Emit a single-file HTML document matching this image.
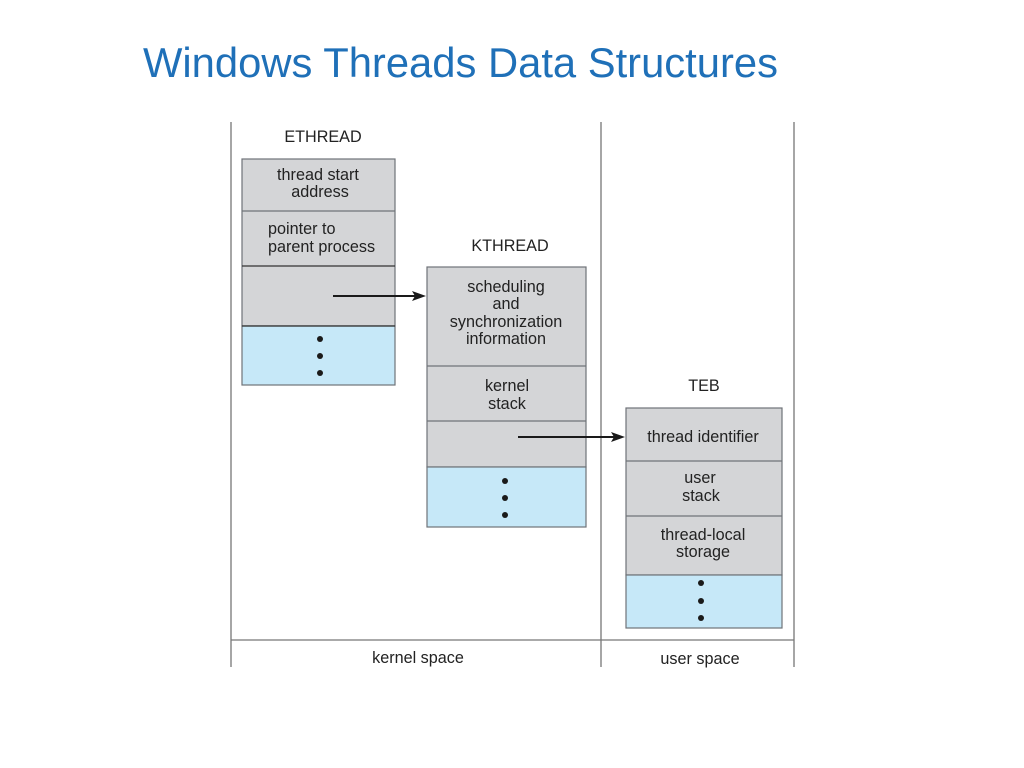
<!DOCTYPE html>
<html><head><meta charset="utf-8"><style>
html,body{margin:0;padding:0;background:#fff;}
svg{display:block;}
</style></head><body>
<svg width="1024" height="768" viewBox="0 0 1024 768" xmlns="http://www.w3.org/2000/svg" font-family="Liberation Sans, sans-serif">
<text x="143" y="77" font-size="42" fill="#1f70b8" textLength="635" lengthAdjust="spacingAndGlyphs">Windows Threads Data Structures</text>
<g stroke="#777" stroke-width="1.3">
<line x1="231" y1="122" x2="231" y2="667"/>
<line x1="601" y1="122" x2="601" y2="667"/>
<line x1="794" y1="122" x2="794" y2="667"/>
<line x1="231" y1="640" x2="794" y2="640"/>
</g>
<g stroke="#6f7378" stroke-width="1.2">
<rect x="242" y="159" width="153" height="167" fill="#d4d5d7"/>
<rect x="242" y="326" width="153" height="59" fill="#c6e8f8"/>
<line x1="242" y1="211" x2="395" y2="211"/>
<line x1="242" y1="266" x2="395" y2="266" stroke="#333"/>
<line x1="242" y1="326" x2="395" y2="326" stroke="#333"/>
<rect x="427" y="267" width="159" height="200" fill="#d4d5d7"/>
<rect x="427" y="467" width="159" height="60" fill="#c6e8f8"/>
<line x1="427" y1="366" x2="586" y2="366"/>
<line x1="427" y1="421" x2="586" y2="421"/>
<rect x="626" y="408" width="156" height="167" fill="#d4d5d7"/>
<rect x="626" y="575" width="156" height="53" fill="#c6e8f8"/>
<line x1="626" y1="461" x2="782" y2="461"/>
<line x1="626" y1="516" x2="782" y2="516"/>
</g>
<g fill="#1a1a1a">
<circle cx="320" cy="339" r="3"/><circle cx="320" cy="356" r="3"/><circle cx="320" cy="373" r="3"/>
<circle cx="505" cy="481" r="3"/><circle cx="505" cy="498" r="3"/><circle cx="505" cy="515" r="3"/>
<circle cx="701" cy="583" r="3"/><circle cx="701" cy="601" r="3"/><circle cx="701" cy="618" r="3"/>
</g>
<g stroke="#1a1a1a" stroke-width="2">
<line x1="333" y1="296" x2="415" y2="296"/>
<line x1="518" y1="437" x2="614" y2="437"/>
</g>
<g fill="#1a1a1a">
<polygon points="426,296 412,291 415,296 412,301"/>
<polygon points="625,437 611,432 614,437 611,442"/>
</g>
<g font-size="16.2" fill="#222" text-anchor="middle">
<text x="323" y="142">ETHREAD</text>
<text x="510" y="251">KTHREAD</text>
<text x="704" y="391">TEB</text>
<text x="318" y="180">thread start</text>
<text x="320" y="197">address</text>
<text x="268" y="234" text-anchor="start">pointer to</text>
<text x="268" y="252" text-anchor="start">parent process</text>
<text x="506" y="292">scheduling</text>
<text x="506" y="309">and</text>
<text x="506" y="327">synchronization</text>
<text x="506" y="344">information</text>
<text x="507" y="391">kernel</text>
<text x="507" y="409">stack</text>
<text x="703" y="442">thread identifier</text>
<text x="700" y="483">user</text>
<text x="701" y="501">stack</text>
<text x="703" y="540">thread-local</text>
<text x="703" y="557">storage</text>
<text x="418" y="663">kernel space</text>
<text x="700" y="664">user space</text>
</g>
</svg>
</body></html>
